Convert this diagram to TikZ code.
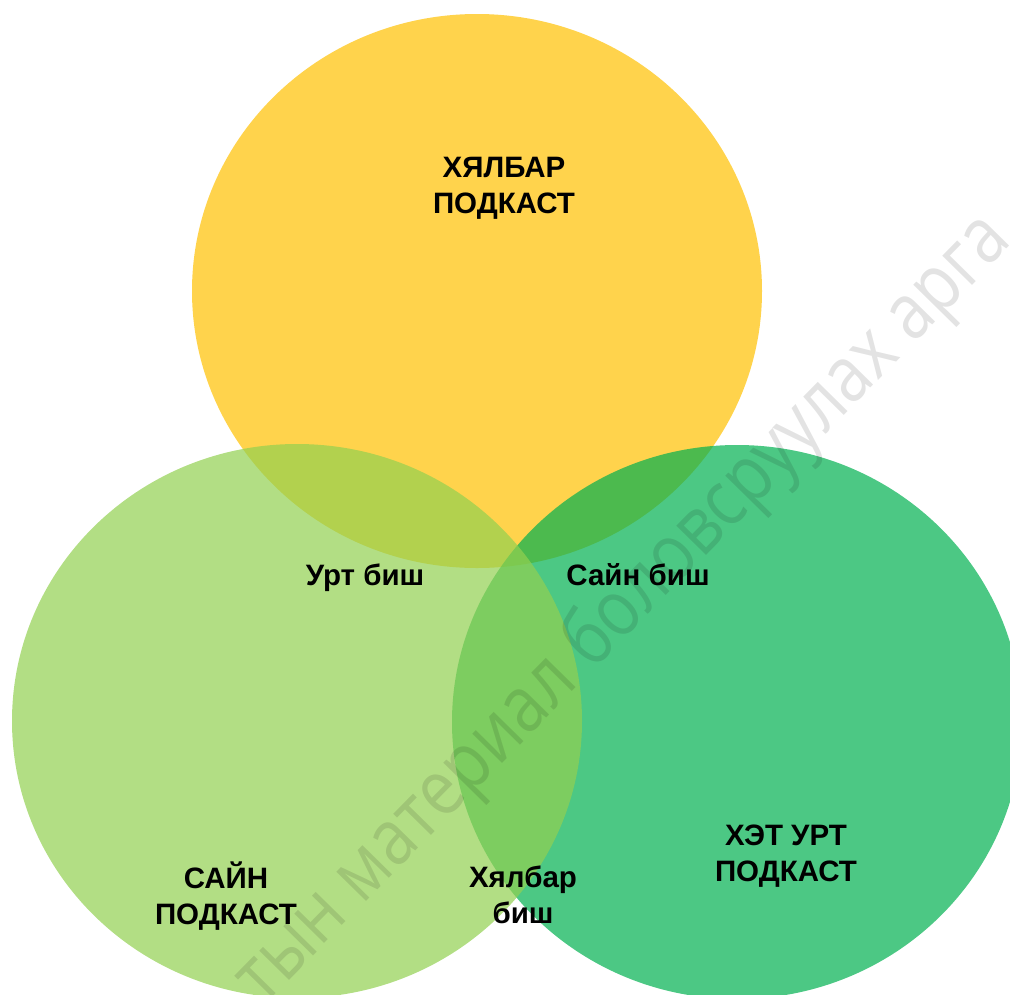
\documentclass[tikz,border=0pt]{standalone}
\usepackage{fontspec}
\setmainfont{Liberation Sans}
\newfontfamily\wmfont{Open Sans}[FakeStretch=0.85]
\usetikzlibrary{shapes.geometric}

\definecolor{venngold}{HTML}{FFC000}
\definecolor{vennlime}{HTML}{92D050}
\definecolor{venngreen}{HTML}{00B050}

\begin{document}
\begin{tikzpicture}[
    x=1pt, y=-1pt,
    venn/.style={ellipse, fill=#1, fill opacity=0.7, draw=none,
                 minimum width=570pt, minimum height=554pt, inner sep=0pt},
    lbl/.style={font=\bfseries\fontsize{29.5}{36}\selectfont, align=center,
                inner sep=0pt}
]
\useasboundingbox (0,0) rectangle (1010,994);

% Circles (order gives the overlap tints)
\node[venn=venngold] (easy) at (477, 291) {};
\node[venn=venngreen] (long) at (737, 722) {};
\node[venn=vennlime] (good) at (297, 721) {};

% Circle names
\node[lbl] (easytxt) at (504, 188) {ХЯЛБАР\\ПОДКАСТ};
\node[lbl] (goodtxt) at (226, 896) {САЙН\\ПОДКАСТ};
\node[lbl] (longtxt) at (786, 856) {ХЭТ УРТ\\ПОДКАСТ};

% Overlaps
\node[lbl] (notlong) at (365, 578) {Урт биш};
\node[lbl] (notgood) at (638, 575) {Сайн биш};
\node[lbl] (noteasy) at (523, 895) {Хялбар\\биш};

% Watermark
\node[font=\wmfont\fontsize{78}{78}\selectfont, text=black, text opacity=0.11,
      rotate=45.5, inner sep=0pt] (wmark) at (624, 610)
    {тын материал боловсруулах арга};

\end{tikzpicture}
\end{document}
